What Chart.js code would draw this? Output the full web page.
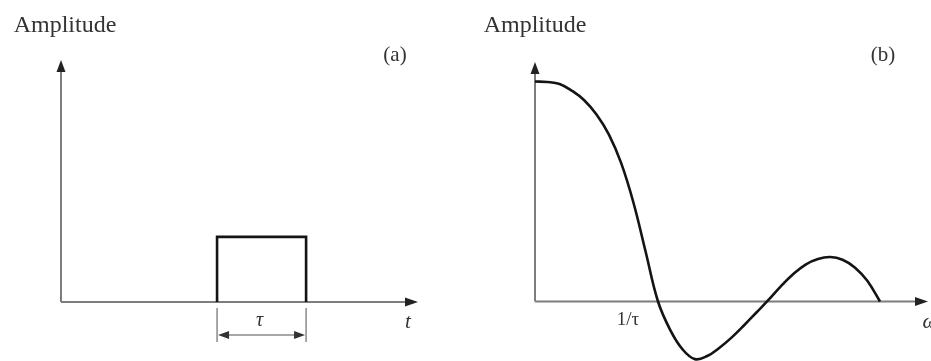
<!DOCTYPE html>
<html lang="en">
<head>
<meta charset="UTF-8">
<title>Pulse and spectrum</title>
<script src="https://cdn.jsdelivr.net/npm/chart.js"></script>
<style>
  body { margin: 0; background: #fff; }
  .painel { position: absolute; top: 0; }
</style>
</head>
<body>
  <canvas id="graficoPulso" class="painel" width="470" height="361" style="left:0"></canvas>
  <canvas id="graficoEspectro" class="painel" width="461" height="361" style="left:470px"></canvas>

<script>
  // (a) rectangular pulse, time in units of tau
  const pulsoT = [1.753, 1.753, 2.753, 2.753];
  const pulsoAmp = [0, 1, 1, 0];
  const eixoTMax = 4.01;
  const eixoAmpMaxA = 3.72;
  const eixoAmpMinA = -0.908;

  // (b) spectrum, frequency in units of 1/tau
  const freq = [0, 0.1, 0.2, 0.3, 0.4, 0.5, 0.6, 0.7, 0.8, 0.9, 1.0, 1.1, 1.2, 1.3, 1.4, 1.5, 1.6, 1.7, 1.8, 1.9, 2.0, 2.1, 2.2, 2.3, 2.4, 2.5, 2.6, 2.7, 2.805];
  const espectro = [1.0, 0.998, 0.989, 0.958, 0.915, 0.85, 0.76, 0.63, 0.45, 0.225, 0, -0.13, -0.218, -0.262, -0.248, -0.21, -0.163, -0.108, -0.05, 0.008, 0.07, 0.125, 0.168, 0.193, 0.202, 0.19, 0.155, 0.095, 0];
  const eixoFMax = 3.195;
  const eixoAmpMaxB = 1.0886;
  const eixoAmpMinB = -0.2705;

  const rotulos = {
    amplitude: 'Amplitude',
    a: '(a)',
    b: '(b)',
    t: 't',
    tau: 'τ',
    freqCorte: '1/τ',
    omega: 'ω'
  };

  const corEixo = '#7d7d7d';
  const corTraco = '#141414';
  const fonteSerif = '"Liberation Serif", "DejaVu Serif", serif';

  function seta(ctx, x, y, dir) {
    // small filled arrow head, tip at (x, y)
    ctx.beginPath();
    if (dir === 'up') {
      ctx.moveTo(x, y); ctx.lineTo(x - 4.5, y + 12); ctx.lineTo(x + 4.5, y + 12);
    } else if (dir === 'right') {
      ctx.moveTo(x, y); ctx.lineTo(x - 13, y - 4.5); ctx.lineTo(x - 13, y + 4.5);
    } else if (dir === 'left') {
      ctx.moveTo(x, y); ctx.lineTo(x + 11, y - 4); ctx.lineTo(x + 11, y + 4);
    }
    ctx.closePath();
    ctx.fill();
  }

  function desenharEixos(chart, yMax, xMax) {
    const ctx = chart.ctx;
    const sx = chart.scales.x, sy = chart.scales.y;
    const x0 = sx.getPixelForValue(0), y0 = sy.getPixelForValue(0);
    const yTopo = sy.getPixelForValue(yMax), xFim = sx.getPixelForValue(xMax);
    ctx.save();
    ctx.strokeStyle = corEixo;
    ctx.fillStyle = '#222';
    ctx.lineWidth = 2;
    ctx.beginPath();
    ctx.moveTo(x0, y0); ctx.lineTo(x0, yTopo + 8);
    ctx.moveTo(x0, y0); ctx.lineTo(xFim - 8, y0);
    ctx.stroke();
    seta(ctx, x0, yTopo, 'up');
    seta(ctx, xFim, y0, 'right');
    ctx.restore();
  }

  function texto(ctx, s, x, y, tam, italico, cor) {
    ctx.save();
    ctx.font = (italico ? 'italic ' : '') + tam + 'px ' + fonteSerif;
    ctx.fillStyle = cor || '#333';
    ctx.textAlign = 'center';
    ctx.textBaseline = 'middle';
    ctx.fillText(s, x, y);
    ctx.restore();
  }

  const pluginPulso = {
    id: 'pluginPulso',
    beforeDatasetsDraw(chart) {
      desenharEixos(chart, eixoAmpMaxA, eixoTMax);
    },
    afterDraw(chart) {
      const ctx = chart.ctx;
      const sx = chart.scales.x, sy = chart.scales.y;
      const xa = sx.getPixelForValue(pulsoT[0]);
      const xb = sx.getPixelForValue(pulsoT[3]);
      const y0 = sy.getPixelForValue(0);
      texto(ctx, rotulos.amplitude, 65, 26, 24, false);
      texto(ctx, rotulos.a, 395, 55, 21, false);
      texto(ctx, rotulos.t, sx.getPixelForValue(eixoTMax) - 10, y0 + 21, 21, true);
      // tau dimension
      ctx.save();
      ctx.strokeStyle = '#8a8a8a';
      ctx.fillStyle = '#333';
      ctx.lineWidth = 1.5;
      ctx.beginPath();
      ctx.moveTo(xa, y0 + 6); ctx.lineTo(xa, y0 + 40);
      ctx.moveTo(xb, y0 + 6); ctx.lineTo(xb, y0 + 40);
      ctx.moveTo(xa + 8, y0 + 33); ctx.lineTo(xb - 8, y0 + 33);
      ctx.stroke();
      seta(ctx, xa + 1, y0 + 33, 'left');
      ctx.save();
      ctx.translate(xb - 1, y0 + 33);
      ctx.beginPath();
      ctx.moveTo(0, 0); ctx.lineTo(-11, -4); ctx.lineTo(-11, 4);
      ctx.closePath(); ctx.fill();
      ctx.restore();
      ctx.restore();
      texto(ctx, rotulos.tau, (xa + xb) / 2 - 2, y0 + 19, 20, true);
    }
  };

  const pluginEspectro = {
    id: 'pluginEspectro',
    beforeDatasetsDraw(chart) {
      desenharEixos(chart, eixoAmpMaxB, eixoFMax);
    },
    afterDraw(chart) {
      const ctx = chart.ctx;
      const sx = chart.scales.x, sy = chart.scales.y;
      const y0 = sy.getPixelForValue(0);
      texto(ctx, rotulos.amplitude, 65, 26, 24, false);
      texto(ctx, rotulos.b, 413, 55, 21, false);
      texto(ctx, rotulos.freqCorte, sx.getPixelForValue(1) - 30, y0 + 19, 19, false);
      texto(ctx, rotulos.omega, sx.getPixelForValue(eixoFMax) + 2, y0 + 21, 21, true);
    }
  };

  function opcoes(padding, xMax, yMin, yMax) {
    return {
      responsive: false,
      animation: false,
      layout: { padding: padding },
      plugins: { legend: { display: false }, tooltip: { enabled: false } },
      elements: { point: { radius: 0 } },
      scales: {
        x: { type: 'linear', min: 0, max: xMax, display: false },
        y: { type: 'linear', min: yMin, max: yMax, display: false }
      }
    };
  }

  new Chart(document.getElementById('graficoPulso'), {
    type: 'line',
    data: {
      datasets: [{
        data: pulsoT.map((t, i) => ({ x: t, y: pulsoAmp[i] })),
        borderColor: corTraco,
        borderWidth: 2.6,
        tension: 0,
        fill: false,
        clip: false
      }]
    },
    options: opcoes({ left: 61, right: 52, top: 60, bottom: 0 }, eixoTMax, eixoAmpMinA, eixoAmpMaxA),
    plugins: [pluginPulso]
  });

  new Chart(document.getElementById('graficoEspectro'), {
    type: 'line',
    data: {
      datasets: [{
        data: freq.map((f, i) => ({ x: f, y: espectro[i] })),
        borderColor: corTraco,
        borderWidth: 2.6,
        tension: 0.4,
        fill: false,
        clip: false
      }]
    },
    options: opcoes({ left: 65, right: 3, top: 62, bottom: 0 }, eixoFMax, eixoAmpMinB, eixoAmpMaxB),
    plugins: [pluginEspectro]
  });
</script>
</body>
</html>
